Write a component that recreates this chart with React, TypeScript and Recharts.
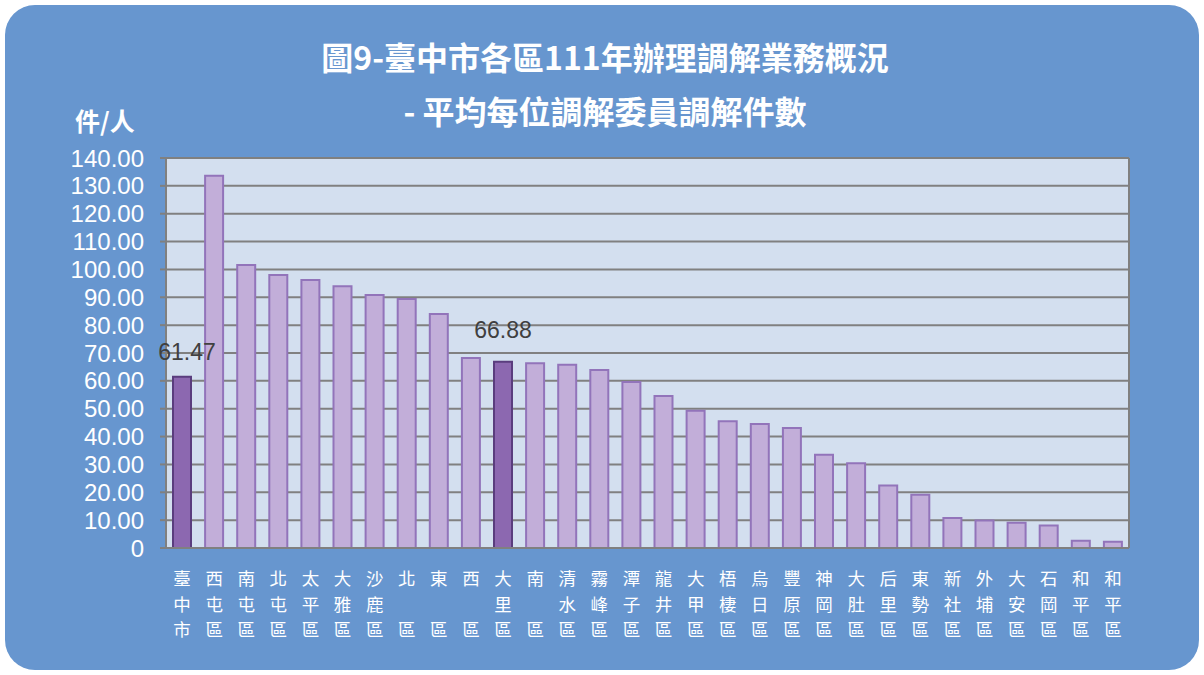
import { Bar, BarChart, CartesianGrid, Cell, LabelList, XAxis, YAxis } from 'recharts'

const DISTRICTS = [
  '臺中市', '西屯區', '南屯區', '北屯區', '太平區', '大雅區', '沙鹿區', '北區', '東區', '西區',
  '大里區', '南區', '清水區', '霧峰區', '潭子區', '龍井區', '大甲區', '梧棲區', '烏日區', '豐原區',
  '神岡區', '大肚區', '后里區', '東勢區', '新社區', '外埔區', '大安區', '石岡區', '和平區', '和平區',
]

const CASES_PER_MEMBER = [
  61.47, 133.6, 101.6, 98.0, 96.2, 94.0, 90.8, 89.4, 84.0, 68.2,
  66.88, 66.3, 65.8, 63.9, 59.6, 54.6, 49.3, 45.5, 44.5, 43.1,
  33.5, 30.4, 22.4, 19.1, 10.8, 9.9, 9.1, 8.1, 2.6, 2.2,
]

// bars that are drawn darker and carry a value label
const HIGHLIGHTED = ['臺中市', '大里區']

const Y_TICKS = [0, 10, 20, 30, 40, 50, 60, 70, 80, 90, 100, 110, 120, 130, 140]

const FONT = '"Noto Sans CJK TC", "Noto Sans", sans-serif'
const NUM_FONT = '"Liberation Sans", "DejaVu Sans", sans-serif'

const data = DISTRICTS.map((name, i) => ({
  idx: i,
  name,
  value: CASES_PER_MEMBER[i],
  highlight: i < 11 && HIGHLIGHTED.includes(name),
}))

// vertical label, one character per line; two-character names leave the middle line empty
function StackedTick({ x, y, payload }: { x?: number; y?: number; payload?: { value: number } }) {
  const name = DISTRICTS[payload?.value ?? 0] ?? ''
  const chars = name.length === 2 ? [name[0], '', name[1]] : name.split('')
  return (
    <g>
      {chars.map((ch, i) =>
        ch ? (
          <text
            key={i}
            x={x}
            y={(y ?? 0) + 29 + i * 25.5}
            textAnchor="middle"
            fill="#ffffff"
            fontSize={17.5}
            fontFamily={FONT}
          >
            {ch}
          </text>
        ) : null
      )}
    </g>
  )
}

function ValueLabel(props: any) {
  const { x, y, width, value, index } = props
  if (!data[index]?.highlight) return null
  const dx = index === 0 ? 5 : 0
  const dy = index === 0 ? 17 : 24
  return (
    <text
      x={x + width / 2 + dx}
      y={y - dy}
      textAnchor="middle"
      fill="#404040"
      fontSize={23}
      fontFamily={NUM_FONT}
    >
      {Number(value).toFixed(2)}
    </text>
  )
}

export default function App() {
  return (
    <div style={{ position: 'absolute', left: 0, top: 0, width: 1204, height: 675, background: '#ffffff', fontFamily: FONT }}>
      <div
        style={{
          position: 'absolute',
          left: 5,
          top: 5,
          width: 1194,
          height: 665,
          borderRadius: 30,
          background: '#6796cf',
        }}
      />
      <div style={{ position: 'absolute', left: 0, width: 1210, top: 33, textAlign: 'center', color: '#fff', fontSize: 32, fontWeight: 700, lineHeight: '46px' }}>
        圖9-臺中市各區111年辦理調解業務概況
      </div>
      <div style={{ position: 'absolute', left: 0, width: 1210, top: 87, textAlign: 'center', color: '#fff', fontSize: 32, fontWeight: 700, lineHeight: '46px' }}>
        - 平均每位調解委員調解件數
      </div>
      <div style={{ position: 'absolute', left: 75, top: 102, color: '#fff', fontSize: 25, fontWeight: 700, lineHeight: '36px' }}>件/人</div>
      <div style={{ position: 'absolute', left: 0, top: 0 }}>
        <BarChart
          width={1204}
          height={675}
          data={data}
          margin={{ top: 158, right: 75, bottom: 27, left: 106 }}
          barSize={18}
        >
          <CartesianGrid
            fill="#d3dfef"
            stroke="#808080"
            strokeWidth={2}
            verticalCoordinatesGenerator={({ offset }: any) => [offset.left, offset.left + offset.width]}
          />
          <XAxis
            dataKey="idx"
            type="category"
            interval={0}
            height={100}
            axisLine={{ stroke: '#808080', strokeWidth: 2 }}
            tickLine={false}
            tick={<StackedTick />}
          />
          <YAxis
            domain={[0, 140]}
            ticks={Y_TICKS}
            width={60}
            interval={0}
            axisLine={{ stroke: '#808080', strokeWidth: 2 }}
            tickLine={{ stroke: '#808080', strokeWidth: 2 }}
            tickSize={6}
            tickMargin={16}
            tick={{ fill: '#ffffff', fontSize: 24, fontFamily: NUM_FONT }}
            tickFormatter={(v: number) => (v === 0 ? '0' : v.toFixed(2))}
          />
          <Bar dataKey="value" isAnimationActive={false} strokeWidth={2}>
            {data.map((d) => (
              <Cell
                key={d.idx}
                fill={d.highlight ? '#8c68b0' : '#c2aed9'}
                stroke={d.highlight ? '#5a3d7e' : '#9274ba'}
              />
            ))}
            <LabelList dataKey="value" content={<ValueLabel />} />
          </Bar>
        </BarChart>
      </div>
    </div>
  )
}
